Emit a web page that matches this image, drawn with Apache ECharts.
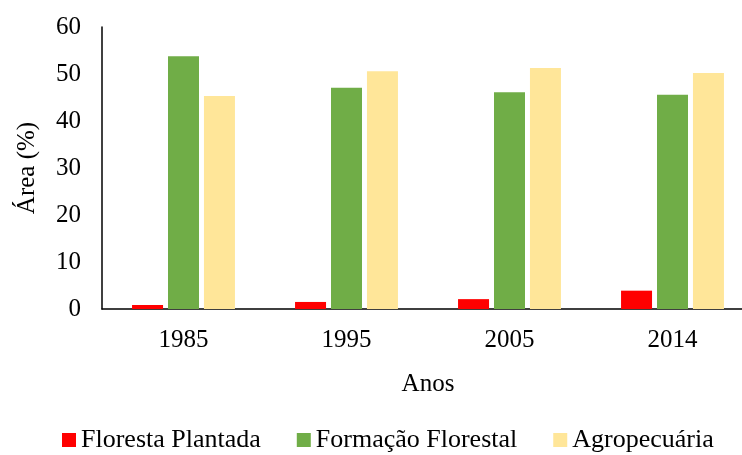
<!DOCTYPE html>
<html>
<head>
<meta charset="utf-8">
<script src="https://cdn.jsdelivr.net/npm/echarts@6/dist/echarts.min.js"></script>
<style>
  html, body { margin: 0; padding: 0; background: #ffffff; overflow: hidden; }
  /* the plot runs past the right edge in the original, so the canvas is wider than the window */
  #chart { width: 754px; height: 455px; }
</style>
</head>
<body>
<div id="chart"></div>
<script>
var anos = ["1985", "1995", "2005", "2014"];
var florestaPlantada = [0.85, 1.5, 2.1, 3.9];
var formacaoFlorestal = [53.8, 47.1, 46.1, 45.6];
var agropecuaria = [45.3, 50.6, 51.3, 50.2];
var yTicks = [0, 10, 20, 30, 40, 50, 60];

var fontFamily = "Liberation Serif";

var chart = echarts.init(document.getElementById("chart"), null, { renderer: "canvas" });

chart.setOption({
  animation: false,
  backgroundColor: "#ffffff",
  textStyle: { fontFamily: fontFamily },
  grid: {
    left: 102,
    top: 27,
    right: 0,
    bottom: 146,
    containLabel: false
  },
  legend: {
    left: 57,
    top: 422,
    icon: "rect",
    itemWidth: 14,
    itemHeight: 14,
    itemGap: 36,
    textStyle: { fontFamily: fontFamily, fontSize: 26, color: "#000000" },
    data: ["Floresta Plantada", "Formação Florestal", "Agropecuária"]
  },
  xAxis: {
    type: "category",
    data: anos,
    name: "Anos",
    nameLocation: "middle",
    nameGap: 63,
    nameTextStyle: { fontFamily: fontFamily, fontSize: 25, color: "#000000" },
    axisLine: { show: true, lineStyle: { color: "#000000", width: 1.5 } },
    axisTick: { show: false },
    axisLabel: { margin: 19, fontFamily: fontFamily, fontSize: 25, color: "#000000" }
  },
  yAxis: {
    type: "value",
    min: yTicks[0],
    max: yTicks[yTicks.length - 1],
    interval: 10,
    name: "Área (%)",
    nameLocation: "middle",
    nameGap: 62,
    nameTextStyle: { fontFamily: fontFamily, fontSize: 25, color: "#000000" },
    axisLine: { show: true, lineStyle: { color: "#000000", width: 1.5 } },
    axisTick: { show: false },
    splitLine: { show: false },
    axisLabel: { margin: 21, fontFamily: fontFamily, fontSize: 25, color: "#000000" }
  },
  series: [
    {
      name: "Floresta Plantada",
      type: "bar",
      data: florestaPlantada,
      barWidth: 31,
      barGap: "16%",
      itemStyle: { color: "#FF0000" }
    },
    {
      name: "Formação Florestal",
      type: "bar",
      data: formacaoFlorestal,
      barWidth: 31,
      barGap: "16%",
      itemStyle: { color: "#70AD47" }
    },
    {
      name: "Agropecuária",
      type: "bar",
      data: agropecuaria,
      barWidth: 31,
      barGap: "16%",
      itemStyle: { color: "#FFE699" }
    }
  ]
});
</script>
</body>
</html>
